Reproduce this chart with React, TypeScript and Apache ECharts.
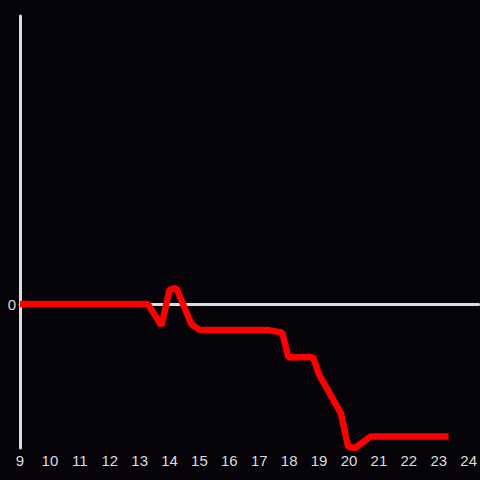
import React, { useEffect, useRef } from "react";
import * as echarts from "echarts";

const xValues = [9, 13.27, 13.73, 14.0, 14.23, 14.73, 15.0, 17.27, 17.77, 17.97, 18.8, 19.0, 19.73, 19.97, 20.2, 20.73, 23.33];
const yValues = [0, 0, -0.15, 0.1, 0.11, -0.14, -0.18, -0.18, -0.2, -0.37, -0.37, -0.49, -0.76, -0.99, -1.0, -0.92, -0.92];

export default function App() {
  const ref = useRef<HTMLDivElement>(null);
  useEffect(() => {
    if (!ref.current) return;
    const chart = echarts.init(ref.current, undefined, { renderer: "svg" });
    chart.setOption({
      animation: false,
      backgroundColor: "#050307",
      grid: { left: 20, right: 0, top: 16, bottom: 32 },
      xAxis: {
        type: "value",
        min: 9,
        max: 24.33,
        interval: 1,
        axisLine: { onZero: true, lineStyle: { color: "#dddddd", width: 3 } },
        axisTick: { show: false },
        splitLine: { show: false },
        axisLabel: {
          color: "#dddddd",
          fontSize: 15,
          fontFamily: "Liberation Sans",
          showMaxLabel: false,
          formatter: (v: number) => (v <= 24 ? String(v) : ""),
          margin: 5,
        },
      },
      yAxis: {
        type: "value",
        min: -1,
        max: 2,
        interval: 1,
        axisLine: { show: true, onZero: false, lineStyle: { color: "#dddddd", width: 3 } },
        axisTick: { show: false },
        splitLine: { show: false },
        axisLabel: {
          color: "#dddddd",
          fontSize: 15,
          fontFamily: "Liberation Sans",
          margin: 4,
          formatter: (v: number) => (v === 0 ? "0" : ""),
        },
      },
      series: [
        {
          type: "line",
          data: xValues.map((x, i) => [x, yValues[i]]),
          showSymbol: false,
          lineStyle: { color: "#ff0000", width: 6.5 },
        },
      ],
    });
    return () => chart.dispose();
  }, []);
  return <div ref={ref} style={{ position: "fixed", left: 0, top: 0, width: 480, height: 480 }} />;
}
